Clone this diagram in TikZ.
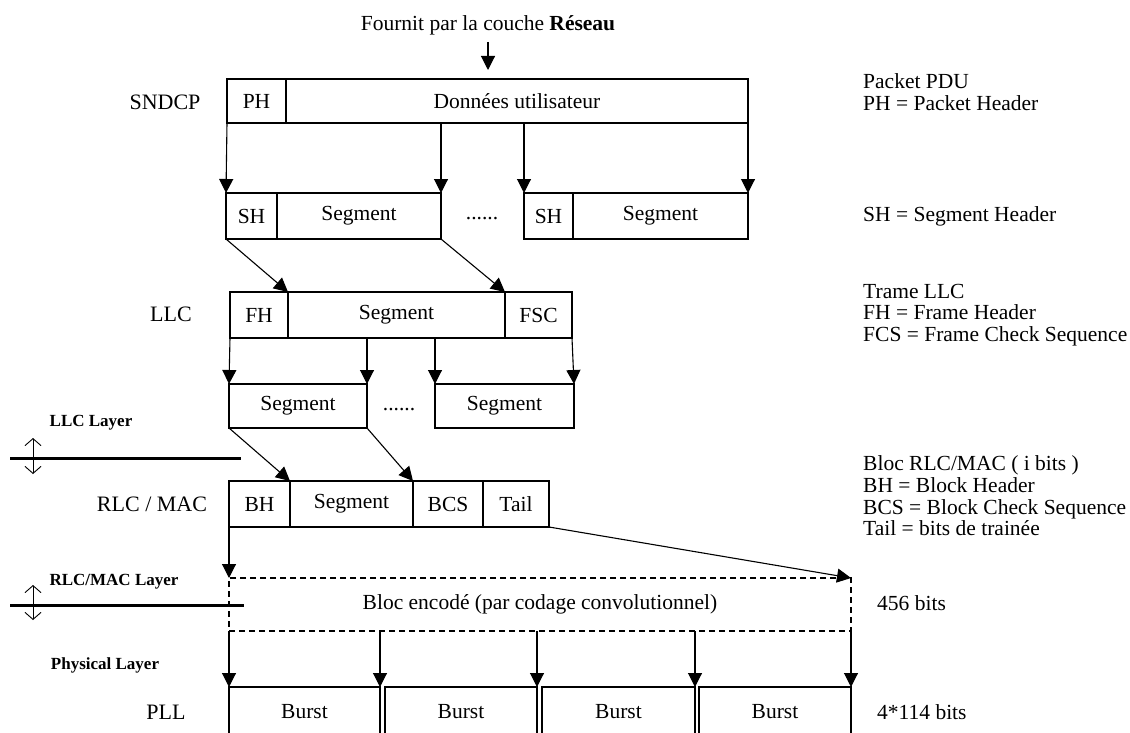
\documentclass[tikz,border=0pt]{standalone}
\usepackage{fontspec}
\setmainfont{Liberation Serif}
\usetikzlibrary{arrows.meta, positioning}

\begin{document}
\begin{tikzpicture}[x=1pt, y=-1pt,
  field/.style={draw, line width=1.3pt, inner sep=0pt, outer sep=0pt,
                minimum height=46pt, font=\fontsize{21.5}{23}\selectfont},
  plain/.style={inner sep=2pt, font=\fontsize{21.5}{23}\selectfont},
  level/.style={font=\fontsize{22}{24}\selectfont},
  layer/.style={font=\fontsize{17}{19}\selectfont\bfseries},
  note/.style={anchor=west, align=left, inner sep=0pt,
               font=\fontsize{21.5}{21.7}\selectfont},
  arr/.style={line width=1.1pt, -{Triangle[length=14pt, width=14pt]}},
  bound/.style={line width=3pt},
  cross/.style={line width=0.9pt,
                {Straight Barb[length=7pt, width=16pt]}-{Straight Barb[length=7pt, width=16pt]}},
]
\useasboundingbox (0,0) rectangle (1130,733);
\clip (0,0) rectangle (1130,733);

\node[plain] (src) at (488,25) {Fournit par la couche \textbf{Réseau}};

\node[level] (sndcp) at (165,102) {SNDCP};
\node[level] (llc) at (171,314) {LLC};
\node[level] (rlc) at (152,504) {RLC / MAC};
\node[level] (pll) at (166,712) {PLL};

\node[layer] (llclayer) at (91,423) {LLC Layer};
\node[layer] (rlclayer) at (114,582) {RLC/MAC Layer};
\node[layer] (phylayer) at (105,665) {Physical Layer};

% SNDCP
\node[field, minimum height=44pt, minimum width=59pt, anchor=north west] (ph) at (227,79) {PH};
\node[field, minimum height=44pt, minimum width=462pt, right=0pt of ph] (dat) {Données utilisateur};

\node[field, minimum width=51pt, anchor=north west] (sh1) at (226,193) {SH};
\node[field, minimum width=164pt, right=0pt of sh1] (seg1) {Segment};
\node[plain] (dots1) at (482,219) {......};
\node[field, minimum width=49pt, anchor=north west] (sh2) at (524,193) {SH};
\node[field, minimum width=175pt, right=0pt of sh2] (seg2) {Segment};

% LLC
\node[field, minimum width=58pt, anchor=north west] (fh) at (230,292) {FH};
\node[field, minimum width=217pt, right=0pt of fh] (seg3) {Segment};
\node[field, minimum width=67pt, right=0pt of seg3] (fsc) {FSC};

\node[field, minimum height=44pt, minimum width=138pt, anchor=north west] (seg4) at (229,384) {Segment};
\node[plain] (dots2) at (399,410) {......};
\node[field, minimum height=44pt, minimum width=139pt, anchor=north west] (seg5) at (435,384) {Segment};

% RLC / MAC
\node[field, minimum width=61pt, anchor=north west] (bh) at (229,481) {BH};
\node[field, minimum width=123pt, right=0pt of bh] (seg6) {Segment};
\node[field, minimum width=70pt, right=0pt of seg6] (bcs) {BCS};
\node[field, minimum width=66pt, right=0pt of bcs] (tail) {Tail};

\node[field, dashed, dash pattern=on 6pt off 4pt, minimum height=53pt, minimum width=622pt,
      anchor=north west] (enc) at (229,578) {Bloc encodé (par codage convolutionnel)};

% PLL
\node[field, minimum height=50pt, minimum width=151pt, anchor=north west] (b1) at (229,687) {Burst};
\node[field, minimum height=50pt, minimum width=152pt, anchor=north west] (b2) at (385,687) {Burst};
\node[field, minimum height=50pt, minimum width=153pt, anchor=north west] (b3) at (542,687) {Burst};
\node[field, minimum height=50pt, minimum width=152pt, anchor=north west] (b4) at (699,687) {Burst};

\node[note] (pdu) at (863,92) {Packet PDU\\PH = Packet Header};
\node[note] (shnote) at (863,216) {SH = Segment Header};
\node[note] (trame) at (863,315) {Trame LLC\\FH = Frame Header\\FCS = Frame Check Sequence};
\node[note] (bloc) at (863,496) {Bloc RLC/MAC ( i bits )\\BH = Block Header\\BCS = Block Check Sequence\\Tail = bits de trainée};
\node[note] (bits456) at (877,603) {456 bits};
\node[note] (bits114) at (877,712) {4*114 bits};

\draw[arr, shorten <=5pt, shorten >=9pt] (src.south) -- (src.south |- dat.north);

\draw[arr] (ph.south west) -- (sh1.north west);
\draw[arr] (dat.south -| seg1.north east) -- (seg1.north east);
\draw[arr] (dat.south -| sh2.north west) -- (sh2.north west);
\draw[arr] (dat.south -| seg2.north east) -- (seg2.north east);

\draw[arr] (sh1.south west) -- (fh.north east);
\draw[arr] (seg1.south east) -- (seg3.north east);

\draw[arr] (fh.south west) -- (seg4.north west);
\draw[arr] (seg3.south -| seg4.north east) -- (seg4.north east);
\draw[arr] (seg3.south -| seg5.north west) -- (seg5.north west);
\draw[arr] (fsc.south east) -- (seg5.north east);

\draw[arr] (seg4.south west) -- (bh.north east);
\draw[arr] (seg4.south east) -- (seg6.north east);

\draw[arr] (bh.south west) -- (enc.north west);
\draw[arr] (tail.south east) -- (enc.north east);

\draw[arr] (enc.south west) -- (b1.north west);
\draw[arr] (enc.south -| b1.north east) -- (b1.north east);
\draw[arr] (enc.south -| b2.north east) -- (b2.north east);
\draw[arr] (enc.south -| b3.north east) -- (b3.north east);
\draw[arr] (enc.south east) -- (b4.north east);

\coordinate (llcA) at (10,458);
\coordinate (llcB) at (241,458);
\coordinate (llcUp) at (33,438);
\coordinate (llcDn) at (33,474);
\draw[bound] (llcA) -- (llcB);
\draw[cross] (llcUp) -- (llcDn);

\coordinate (rlcA) at (10,605);
\coordinate (rlcB) at (244,605);
\coordinate (rlcUp) at (33,585);
\coordinate (rlcDn) at (33,620);
\draw[bound] (rlcA) -- (rlcB);
\draw[cross] (rlcUp) -- (rlcDn);

\end{tikzpicture}
\end{document}
